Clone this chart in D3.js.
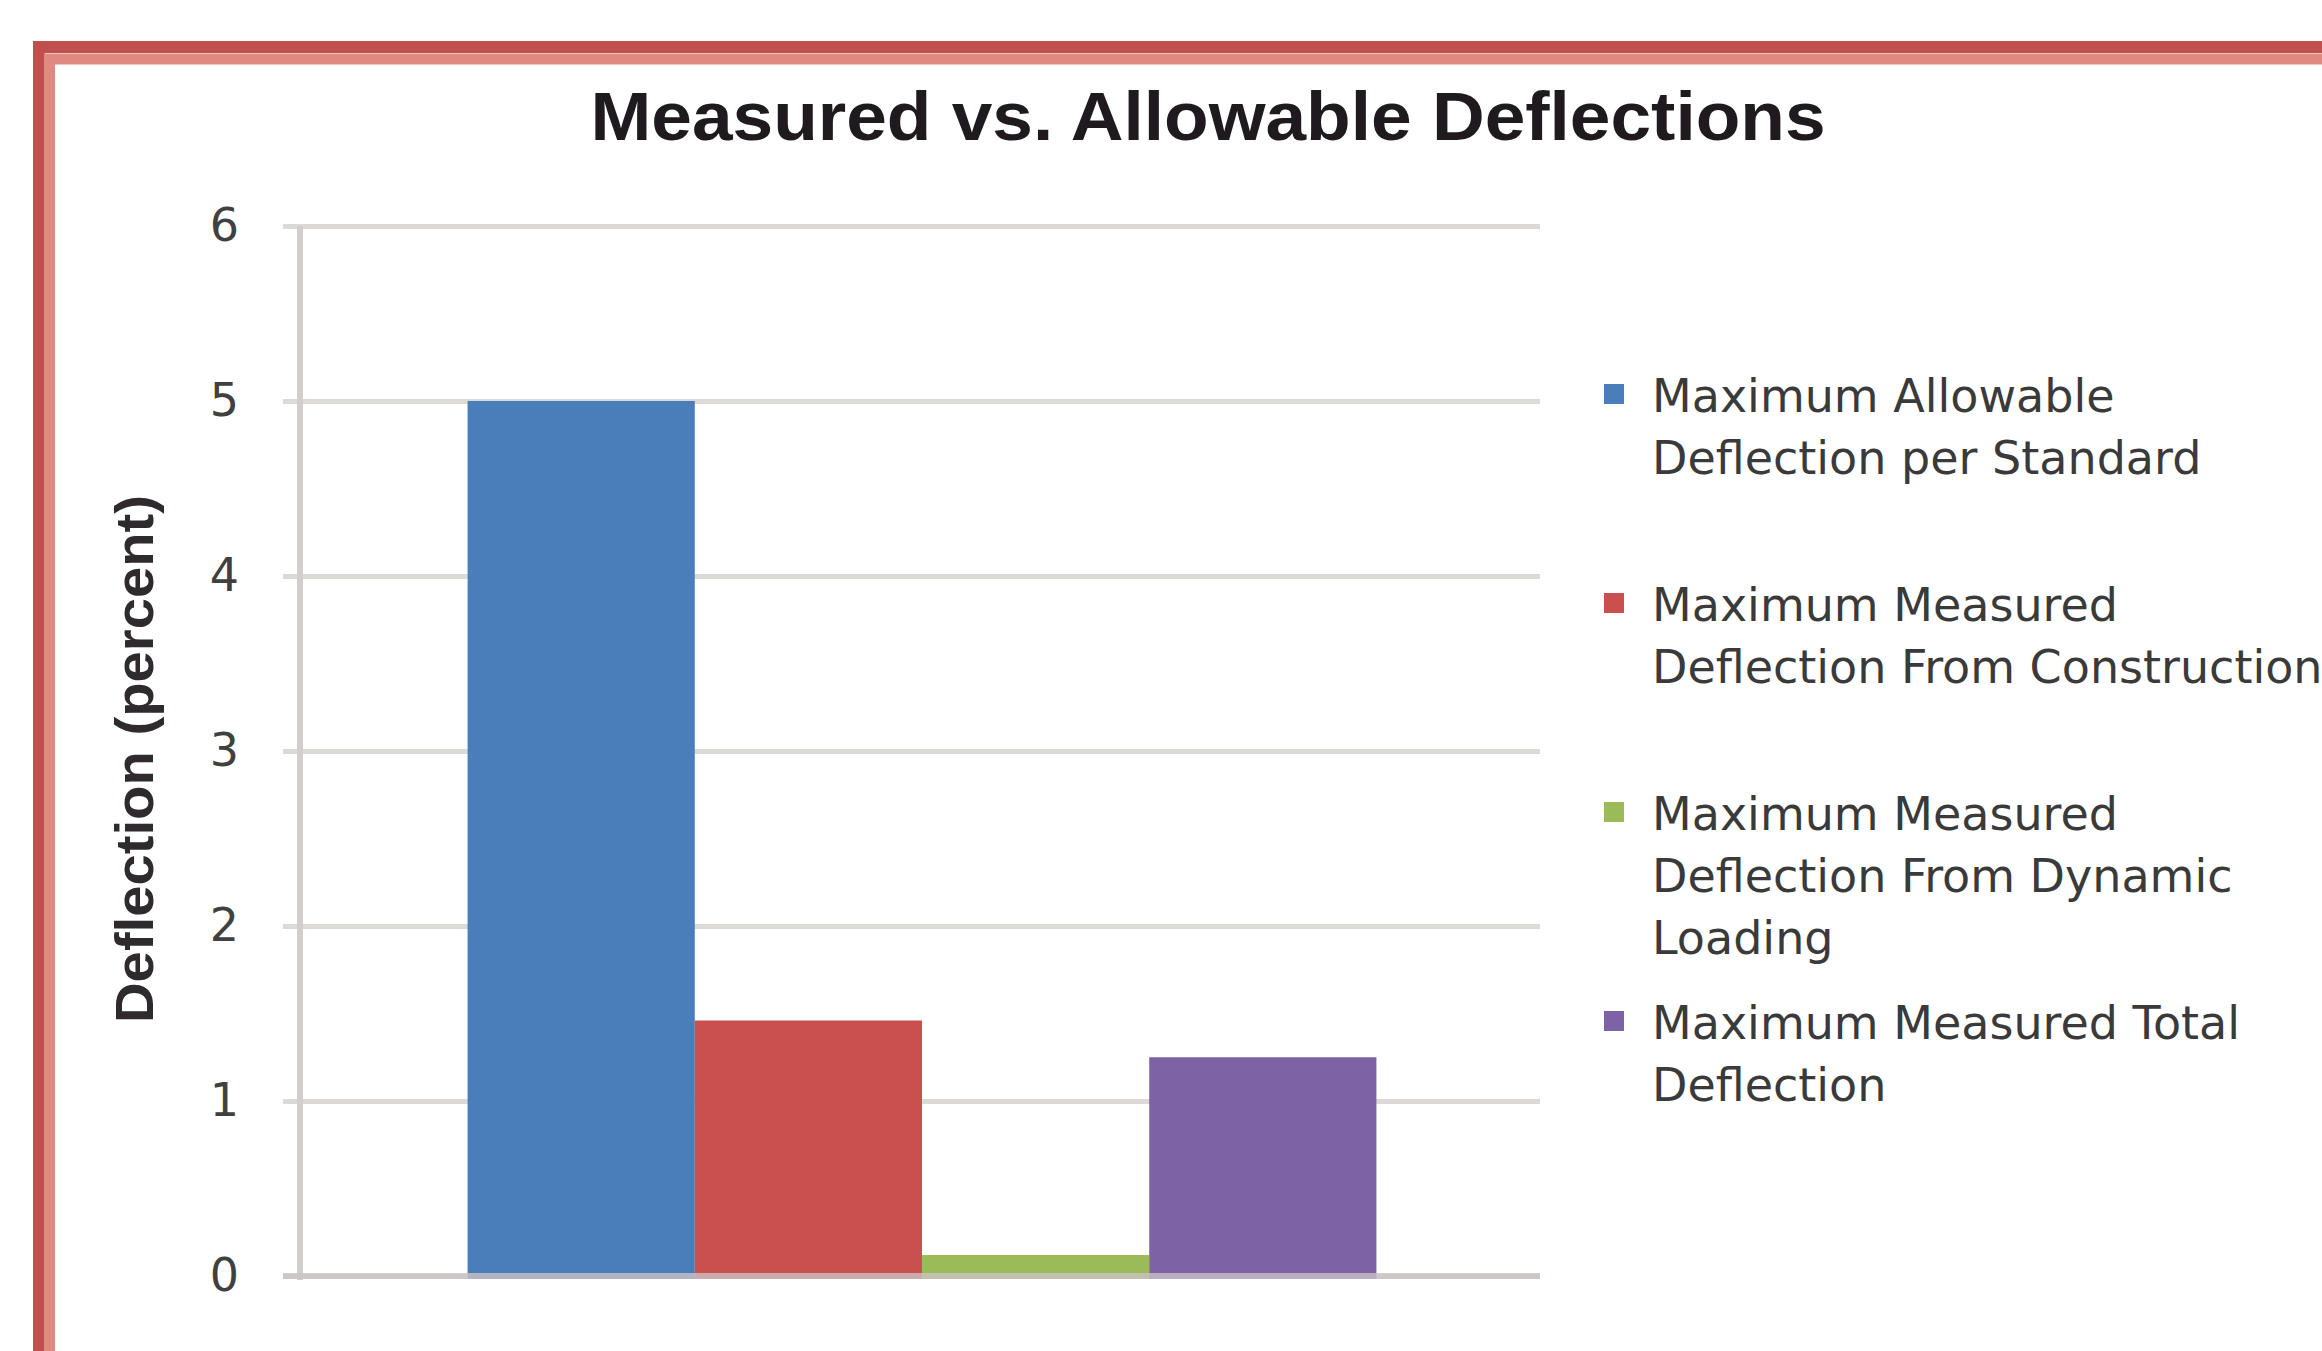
<!DOCTYPE html>
<html>
<head>
<meta charset="utf-8">
<script src="https://cdn.jsdelivr.net/npm/d3@7"></script>
<style>
  body { margin: 0; background: #ffffff; }
  svg { display: block; }
</style>
</head>
<body>
<svg id="chart"></svg>
<script>
// Data
const categories = ["Deflection"];
const seriesNames = [
  "Maximum Allowable Deflection per Standard",
  "Maximum Measured Deflection From Construction",
  "Maximum Measured Deflection From Dynamic Loading",
  "Maximum Measured Total Deflection"
];
const seriesValues = [5.0, 1.46, 0.12, 1.25];
const legendLines = [
  ["Maximum Allowable", "Deflection per Standard"],
  ["Maximum Measured", "Deflection From Construction"],
  ["Maximum Measured", "Deflection From Dynamic", "Loading"],
  ["Maximum Measured Total", "Deflection"]
];
const yTicks = [0, 1, 2, 3, 4, 5, 6];

const chartTitle = "Measured vs. Allowable Deflections";
const yTitle = "Deflection (percent)";

// Dimensions
const Width = 2322;
const Height = 1351;
const plotLeft = 300;
const plotRight = 1540;
const plotTop = 226;
const plotBottom = 1276;

const colors = ["#4a7ebb", "#c9504e", "#9bbb59", "#7d63a6"];

const svg = d3.select("#chart")
  .attr("width", Width)
  .attr("height", Height);

svg.append("rect")
  .attr("width", Width)
  .attr("height", Height)
  .attr("fill", "#ffffff");

// Red frame round the chart (cropped at right and bottom)
svg.append("rect")
  .attr("x", 39).attr("y", 47)
  .attr("width", Width + 100).attr("height", Height + 100)
  .attr("fill", "none")
  .attr("stroke", "#c0504d")
  .attr("stroke-width", 12);
svg.append("rect")
  .attr("x", 49.5).attr("y", 59)
  .attr("width", Width + 100).attr("height", Height + 100)
  .attr("fill", "none")
  .attr("stroke", "#df8a80")
  .attr("stroke-width", 11);

// Scales
const x = d3.scaleBand()
  .domain(categories)
  .range([plotLeft + 4, plotRight])
  .paddingInner(0)
  .paddingOuter(0.18);

const xs = d3.scaleBand()
  .domain(seriesNames)
  .range([0, x.bandwidth()]);

const y = d3.scaleLinear()
  .domain([0, 6])
  .range([plotBottom, plotTop]);

// Gridlines and tick labels
const tickStart = 283;
const yAxis = svg.append("g")
  .attr("transform", `translate(${tickStart},0)`)
  .call(d3.axisLeft(y)
    .tickValues(yTicks)
    .tickSize(-(plotRight - tickStart))
    .tickPadding(44)
    .tickFormat(d3.format("d")));

yAxis.select(".domain").remove();
yAxis.selectAll(".tick line")
  .attr("stroke", "#dcd9d7")
  .attr("stroke-width", 5);
yAxis.selectAll(".tick text")
  .attr("fill", "#404040")
  .style("font-family", "'DejaVu Sans', sans-serif")
  .style("font-size", "46px");

// Bars
const groups = svg.selectAll("g.cat")
  .data(categories)
  .enter()
  .append("g")
  .attr("class", "cat")
  .attr("transform", d => `translate(${x(d)},0)`);

groups.selectAll("rect")
  .data(seriesNames.map((n, i) => ({ name: n, value: seriesValues[i], color: colors[i] })))
  .enter()
  .append("rect")
  .attr("x", d => xs(d.name))
  .attr("y", d => y(d.value))
  .attr("width", xs.bandwidth())
  .attr("height", d => y(0) - y(d.value) + 3)
  .attr("fill", d => d.color);

// Axis lines
svg.append("line")
  .attr("x1", plotLeft).attr("x2", plotLeft)
  .attr("y1", plotTop).attr("y2", plotBottom + 4)
  .attr("stroke", "#d2cecd")
  .attr("stroke-width", 6);

svg.append("line")
  .attr("x1", tickStart).attr("x2", plotRight)
  .attr("y1", y(0)).attr("y2", y(0))
  .attr("stroke", "#c9c3c3")
  .attr("stroke-width", 6)
  .attr("stroke-opacity", 0.8);

// Title
svg.append("text")
  .attr("x", 1208)
  .attr("y", 140)
  .attr("text-anchor", "middle")
  .attr("textLength", 1235)
  .attr("lengthAdjust", "spacingAndGlyphs")
  .style("font-family", "'Liberation Sans', Arial, sans-serif")
  .style("font-weight", "bold")
  .style("font-size", "68px")
  .attr("fill", "#1e1a1e")
  .text(chartTitle);

// Y axis title
svg.append("text")
  .attr("transform", "translate(134,759) rotate(-90)")
  .attr("text-anchor", "middle")
  .attr("dy", "0.35em")
  .attr("textLength", 528)
  .attr("lengthAdjust", "spacingAndGlyphs")
  .style("font-family", "'Liberation Sans', Arial, sans-serif")
  .style("font-weight", "bold")
  .style("font-size", "54px")
  .attr("fill", "#2e2a2e")
  .text(yTitle);

// Legend
const legend = svg.selectAll("g.legend")
  .data(legendLines)
  .enter()
  .append("g")
  .attr("class", "legend")
  .attr("transform", (d, i) => `translate(1604, ${412 + i * 209})`);

legend.append("rect")
  .attr("x", 0)
  .attr("y", -28)
  .attr("width", 20)
  .attr("height", 20)
  .attr("fill", (d, i) => colors[i]);

legend.each(function(lines) {
  const g = d3.select(this);
  lines.forEach((line, j) => {
    g.append("text")
      .attr("x", 48)
      .attr("y", j * 62)
      .attr("fill", "#3a3a3a")
      .style("font-family", "'DejaVu Sans', sans-serif")
      .style("font-size", "46px")
      .text(line);
  });
});
</script>
</body>
</html>
